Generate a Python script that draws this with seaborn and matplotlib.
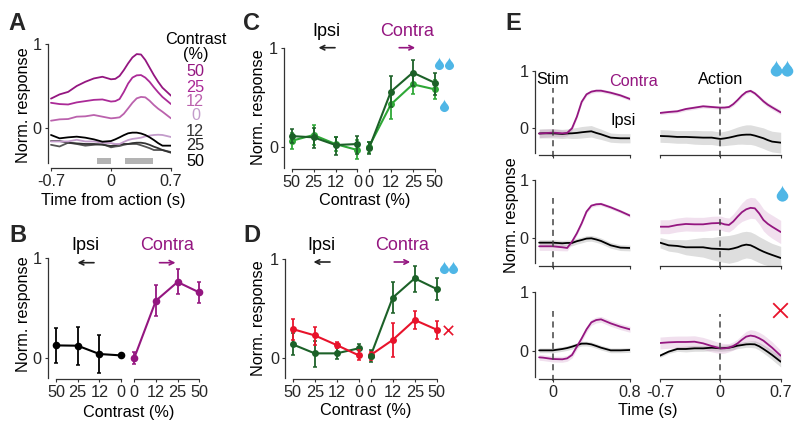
import numpy as np
import pandas as pd
import matplotlib
matplotlib.use('Agg')
import matplotlib.pyplot as plt
from matplotlib.path import Path
import seaborn as sns

# ---- panel A: mean traces per contrast
t_action = [-.7, -.6, -.5, -.4, -.3, -.2, -.1, 0, .05, .1, .15, .2, .25, .3, .35, .4, .45, .5, .55, .6, .7]
a_c50 = [.35, .40, .43, .50, .55, .59, .61, .58, .585, .62, .69, .77, .84, .88, .875, .81, .72, .63, .55, .48, .385]
a_c25 = [.30, .285, .28, .305, .32, .335, .34, .315, .32, .345, .43, .53, .60, .627, .63, .60, .55, .485, .425, .37, .285]
a_c12 = [.087, .103, .107, .135, .139, .155, .135, .115, .12, .127, .17, .234, .30, .353, .37, .365, .325, .274, .23, .194, .115]
a_0 = [-.16, -.16, -.16, -.14, -.16, -.16, -.175, -.18, -.19, -.19, -.165, -.143, -.13, -.123, -.115, -.10, -.09, -.083, -.08, -.083, -.107]
a_i12 = [-.083, -.123, -.111, -.103, -.115, -.135, -.163, -.155, -.135, -.111, -.085, -.063, -.055, -.055, -.065, -.083, -.11, -.143, -.18, -.21, -.21]
a_i25 = [-.155, -.155, -.175, -.183, -.19, -.19, -.20, -.214, -.205, -.195, -.19, -.19, -.18, -.175, -.175, -.183, -.20, -.222, -.24, -.262, -.294]
a_i50 = [-.20, -.22, -.175, -.19, -.21, -.20, -.19, -.23, -.22, -.214, -.20, -.19, -.19, -.19, -.205, -.222, -.24, -.262, -.262, -.262, -.286]
sig_windows = [(-.167, 0), (.163, .494)]

# ---- panels B, C, D: tuning curves (ipsi 50,25,12,0 then contra 0,12,25,50)
ipsi_labels = ['50', '25', '12', '0']
contra_labels = ['0', '12', '25', '50']

b_mean = [.126, .123, .04, .026, 0, .573, .76, .656]
b_low = [-.05, -.066, -.15, .026, -.056, .42, .636, .553]
b_high = [.305, .31, .23, .026, .056, .73, .887, .76]

c_dark = [.108, .095, .017, .027, -.017, .56, .753, .65]
c_dark_low = [.034, -.017, -.085, -.075, -.078, .407, .617, .525]
c_dark_high = [.176, .186, .10, .112, .05, .72, .88, .753]
c_light = [.06, .119, .027, -.034, 0, .43, .634, .583]
c_light_low = [-.024, .017, -.04, -.13, -.068, .28, .536, .485]
c_light_high = [.135, .22, .095, .068, .05, .56, .753, .68]

d_green = [.135, .044, .044, .095, .02, .608, .804, .696]
d_green_low = [.027, -.09, -.014, .027, -.047, .45, .67, .584]
d_green_high = [.247, .169, .11, .135, .078, .77, .93, .804]
d_red = [.29, .226, .128, .024, .027, .18, .382, .284]
d_red_low = [.18, .128, .095, -.024, -.024, .003, .287, .19]
d_red_high = [.39, .314, .155, .078, .06, .348, .473, .375]

# ---- panel E: stim aligned and action aligned traces, three rows
t_stim = [-.14, -.1, 0, .1, .15, .2, .25, .3, .35, .4, .45, .5, .6, .7, .8]

e1_stim_contra = [-.09, -.087, -.075, -.087, -.08, 0, .2, .46, .59, .636, .653, .653, .618, .572, .509]
e1_stim_contra_sem = [.07, .07, .07, .06, .05, .04, .03, .03, .03, .03, .03, .03, .03, .03, .03]
e1_stim_ipsi = [-.09, -.087, -.087, -.098, -.09, -.087, -.08, -.069, -.06, -.052, -.08, -.104, -.162, -.173, -.173]
e1_stim_ipsi_sem = [.08, .08, .08, .08, .08, .09, .095, .1, .1, .1, .095, .09, .08, .08, .08]
e1_act_contra = [.266, .283, .295, .335, .358, .382, .37, .358, .36, .37, .42, .491, .57, .63, .65, .607, .54, .468, .41, .364, .277]
e1_act_contra_sem = [.03, .03, .03, .03, .03, .03, .03, .03, .03, .03, .03, .03, .03, .03, .03, .03, .035, .04, .04, .04, .04]
e1_act_ipsi = [-.133, -.139, -.15, -.15, -.156, -.162, -.162, -.185, -.175, -.162, -.145, -.127, -.115, -.11, -.11, -.127, -.15, -.173, -.205, -.231, -.249]
e1_act_ipsi_sem = [.11, .11, .11, .11, .12, .12, .12, .12, .125, .13, .14, .15, .16, .17, .17, .17, .175, .18, .18, .18, .18]

e2_stim_contra = [-.138, -.138, -.138, -.155, -.167, -.057, .086, .259, .46, .563, .586, .592, .534, .466, .391]
e2_stim_contra_sem = [.07, .07, .07, .06, .05, .04, .035, .03, .03, .03, .03, .03, .03, .03, .03]
e2_stim_ipsi = [-.075, -.075, -.075, -.086, -.08, -.08, -.05, -.029, -.005, 0, -.02, -.046, -.121, -.161, -.167]
e2_stim_ipsi_sem = [.05] * 15
e2_act_contra = [.2, .2, .23, .247, .241, .241, .259, .264, .24, .23, .29, .374, .45, .5, .525, .517, .43, .316, .25, .2, .109]
e2_act_contra_sem = [.12, .12, .12, .12, .12, .12, .12, .12, .12, .12, .13, .14, .16, .18, .18, .18, .185, .19, .195, .2, .2]
e2_act_ipsi = [-.075, -.121, -.132, -.155, -.155, -.155, -.178, -.184, -.187, -.19, -.175, -.155, -.125, -.109, -.12, -.155, -.195, -.23, -.26, -.287, -.339]
e2_act_ipsi_sem = [.09, .1, .11, .13, .15, .17, .19, .22, .23, .24, .24, .24, .235, .23, .23, .23, .225, .22, .21, .2, .2]

e3_stim_contra = [-.107, -.112, -.135, -.14, -.124, -.067, .073, .213, .365, .483, .522, .534, .466, .41, .365]
e3_stim_contra_sem = [.05] * 15
e3_stim_ipsi = [.011, .011, .011, .034, .05, .073, .1, .124, .125, .112, .085, .056, .011, .011, .017]
e3_stim_ipsi_sem = [.04] * 15
e3_act_contra = [.135, .146, .152, .152, .157, .129, .084, .045, .045, .056, .085, .129, .19, .242, .26, .247, .215, .174, .115, .056, -.079]
e3_act_contra_sem = [.1, .1, .1, .1, .1, .1, .1, .09, .08, .07, .07, .07, .08, .09, .1, .1, .1, .1, .1, .1, .09]
e3_act_ipsi = [-.079, -.011, .034, .034, .045, .045, .056, .045, .05, .056, .07, .09, .10, .112, .115, .112, .08, .034, -.015, -.067, -.18]
e3_act_ipsi_sem = [.03, .03, .04, .05, .05, .05, .05, .05, .05, .05, .05, .05, .05, .05, .055, .06, .065, .07, .075, .08, .09]

PURPLE = '#941680'
DARK_GREEN = '#1c6128'
LIGHT_GREEN = '#2ea836'
RED = '#e8132b'
BLUE = '#4fb6e6'
AXC = '#333333'
FS = 11.7

sns.set_style('ticks')
plt.rcParams['font.family'] = ['Liberation Sans', 'DejaVu Sans']

W, H = 800, 429
fig = plt.figure(figsize=(8, 4.29), dpi=100)


def box(left, right, top, bottom):
    return fig.add_axes([left / W, 1 - bottom / H, (right - left) / W, (bottom - top) / H])


def style(ax, ybottom, ylow):
    ax.set_facecolor('none')
    ax.patch.set_visible(False)
    sns.despine(ax=ax)
    ax.set_ylim(ybottom, 1)
    ax.spines['left'].set_bounds(ylow, 1)
    for s in ['left', 'bottom']:
        ax.spines[s].set_color(AXC)
        ax.spines[s].set_linewidth(.9)
    ax.tick_params(length=2, width=.8, color=AXC, labelsize=FS, pad=2.5)
    ax.set_yticks([0, 1])


def tuning_axes(left, first, step, gap, top, zero, bottom, spine_bottom, right):
    ax = box(left, right, top, bottom)
    unit = (zero - top)
    style(ax, -(bottom - zero) / unit, -(spine_bottom - zero) / unit)
    pos = np.array([0, 1, 2, 3, 3 + gap, 4 + gap, 5 + gap, 6 + gap])
    ax.set_xlim((left - first) / step, (right - first) / step)
    ax.set_xticks(pos)
    ax.set_xticklabels(ipsi_labels + contra_labels)
    ax.spines['bottom'].set_bounds(pos[0], pos[3])
    ax.plot(pos[4:], [ax.get_ylim()[0]] * 4, color=AXC, lw=.9, clip_on=False)
    return ax, pos


def tuning(ax, pos, mean, low, high, colors, ms=5):
    mean, low, high = np.array(mean), np.array(low), np.array(high)
    for part, col in zip([slice(0, 4), slice(4, 8)], colors):
        sns.lineplot(x=pos[part], y=mean[part], color=col, lw=1.5, marker='o', markersize=ms,
                     markeredgewidth=0, ax=ax, errorbar=None)
        ax.errorbar(pos[part], mean[part], yerr=[mean[part] - low[part], high[part] - mean[part]],
                    fmt='none', ecolor=col, elinewidth=1.3, capsize=1.5, capthick=1.1)


def trace(ax, t, y, sem, col):
    t, y, sem = np.array(t), np.array(y), np.array(sem)
    ax.fill_between(t, y - sem, y + sem, color=col, alpha=.13, lw=0)
    sns.lineplot(x=t, y=y, color=col, lw=1.3, ax=ax, errorbar=None)


# panel A
ax = box(48, 171, 44, 168)
style(ax, -.476, -.42)
ax.set_xlim(-.735, .7)
ax.set_xticks([-.7, 0, .7])
ax.set_xticklabels(['-0.7', '0', '0.7'])
ax.spines['bottom'].set_bounds(-.7, .7)
for y, col in [(a_i50, '#555555'), (a_i25, '#333333'), (a_0, '#c39ccb'), (a_i12, '#000000'),
               (a_c12, '#bb62ad'), (a_c25, '#ab2a97'), (a_c50, PURPLE)]:
    sns.lineplot(x=t_action, y=y, color=col, lw=1.3, ax=ax, errorbar=None)
for a, b in sig_windows:
    ax.fill_between([a, b], -.43, -.36, color='#b3b3b3', lw=0)

# panel B
ax, pos = tuning_axes(48, 56, 21.67, .61, 258, 358, 379, 378, 210)
tuning(ax, pos, b_mean, b_low, b_high, ['black', PURPLE], ms=5.5)

# panel C
ax, pos = tuning_axes(284.3, 291.7, 21.9, .53, 48.3, 146.7, 169, 168, 445)
tuning(ax, pos, c_light, c_light_low, c_light_high, [LIGHT_GREEN, LIGHT_GREEN])
tuning(ax, pos, c_dark, c_dark_low, c_dark_high, [DARK_GREEN, DARK_GREEN])

# panel D
ax, pos = tuning_axes(285.3, 292.7, 22, .545, 259, 357.7, 379, 378.3, 445)
tuning(ax, pos, d_green, d_green_low, d_green_high, [DARK_GREEN, DARK_GREEN])
tuning(ax, pos, d_red, d_red_low, d_red_high, [RED, RED])
sns.lineplot(x=pos[4:5], y=d_green[4:5], color=DARK_GREEN, marker='o', markersize=5,
             markeredgewidth=0, ax=ax, errorbar=None)

# panel E
rows = [
    (70.7, 128.3, 155, 152.7, e1_stim_contra, e1_stim_contra_sem, e1_stim_ipsi, e1_stim_ipsi_sem,
     e1_act_contra, e1_act_contra_sem, e1_act_ipsi, e1_act_ipsi_sem, .70, .70),
    (180.3, 238.3, 266, 263.3, e2_stim_contra, e2_stim_contra_sem, e2_stim_ipsi, e2_stim_ipsi_sem,
     e2_act_contra, e2_act_contra_sem, e2_act_ipsi, e2_act_ipsi_sem, .695, .695),
    (291.7, 351, 379, 377.3, e3_stim_contra, e3_stim_contra_sem, e3_stim_ipsi, e3_stim_ipsi_sem,
     e3_act_contra, e3_act_contra_sem, e3_act_ipsi, e3_act_ipsi_sem, .675, .62),
]
for i, r in enumerate(rows):
    top, zero, bottom, sp = r[:4]
    unit = zero - top
    ymin = -(bottom - zero) / unit
    ax1 = box(535, 630, top, bottom)
    style(ax1, ymin, -(sp - zero) / unit)
    ax1.set_xlim(-.183, .8)
    ax1.spines['bottom'].set_bounds(-.138, .8)
    trace(ax1, t_stim, r[6], r[7], 'black')
    trace(ax1, t_stim, r[4], r[5], PURPLE)
    ax1.vlines(0, ymin - .03, r[12], color='#444444', lw=1.1, linestyles=(0, (4, 3)), clip_on=False)
    ax2 = box(660, 780.7, top, bottom)
    style(ax2, ymin, 0)
    ax2.spines['left'].set_visible(False)
    ax2.set_yticks([])
    ax2.set_xlim(-.7, .7)
    trace(ax2, t_action, r[10], r[11], 'black')
    trace(ax2, t_action, r[8], r[9], PURPLE)
    ax2.vlines(0, ymin - .03, r[13], color='#444444', lw=1.1, linestyles=(0, (4, 3)), clip_on=False)
    ax1.set_xticks([0, .8])
    ax2.set_xticks([-.7, 0, .7])
    if i == 2:
        ax1.set_xticklabels(['0', '0.8'])
        ax2.set_xticklabels(['-0.7', '0', '0.7'])
    else:
        ax1.set_xticklabels([])
        ax2.set_xticklabels([])

# annotations in pixel coordinates
ov = fig.add_axes([0, 0, 1, 1], zorder=10)
ov.set_xlim(0, W)
ov.set_ylim(H, 0)
ov.axis('off')


def label(x, y, s, color='black', rot=0, fs=FS):
    ov.text(x, y, s, color=color, rotation=rot, fontsize=fs, ha='center', va='center')


for x, y, s in [(8, 30, 'A'), (9, 242, 'B'), (243, 30, 'C'), (243, 242, 'D'), (505, 30, 'E')]:
    ov.text(x, y, s, fontsize=17, fontweight='bold', ha='left', va='baseline')

for x, y in [(24, 105.5), (24, 314), (259, 107), (259, 318), (511.7, 215)]:
    label(x, y, 'Norm. response', rot=90)
label(113, 200, 'Time from action (s)')
label(129, 412, 'Contrast (%)')
label(365, 201, 'Contrast (%)')
label(366, 411, 'Contrast (%)')
label(647.7, 410.7, 'Time (s)')

label(196, 39, 'Contrast')
label(196, 54, '(%)')
legend_y = [72, 87, 102, 116, 131, 146, 161]
legend_s = ['50', '25', '12', '0', '12', '25', '50']
legend_c = [PURPLE, '#ab2a97', '#bb62ad', '#c39ccb', '#333333', '#222222', 'black']
for y, s, c in zip(legend_y, legend_s, legend_c):
    ov.text(204 if s != '0' else 200, y, s, color=c, fontsize=FS, ha='right', va='center')

for xi, xc, ya, yt in [(85, 167, 262.7, 246), (326, 406.7, 47.7, 31), (321, 401.7, 262, 246)]:
    label(xi, yt, 'Ipsi', fs=13)
    label(xc, yt, 'Contra', color=PURPLE, fs=13)
    ov.annotate('', xy=(xi - 7.5, ya), xytext=(xi + 9, ya),
                arrowprops=dict(arrowstyle='->', lw=1.2, color='#222222', shrinkA=0, shrinkB=0, mutation_scale=8))
    ov.annotate('', xy=(xc + 8.5, ya), xytext=(xc - 7.5, ya),
                arrowprops=dict(arrowstyle='->', lw=1.2, color=PURPLE, shrinkA=0, shrinkB=0, mutation_scale=8))

label(553, 79, 'Stim')
label(634, 82, 'Contra', color=PURPLE)
label(622.7, 120, 'Ipsi')
label(720.7, 79, 'Action')

drop = Path([(0, 1), (.1, .5), (.65, .25), (.65, -.2), (.65, -.55), (.3, -.8), (0, -.8),
             (-.3, -.8), (-.65, -.55), (-.65, -.2), (-.65, .25), (-.1, .5), (0, 1), (0, 1)],
            [Path.MOVETO] + [Path.CURVE4] * 12 + [Path.CLOSEPOLY])
ov.scatter([439.3, 448.7, 443.7, 444, 453], [64, 64, 106, 268, 268], marker=drop, s=100, color=BLUE, linewidths=0)
ov.scatter([775.7, 787.3, 782.3], [69, 69, 194], marker=drop, s=165, color=BLUE, linewidths=0)
ov.scatter([448.3], [330], marker='x', s=45, color=RED, linewidths=1.2)
ov.scatter([780], [310], marker='x', s=110, color=RED, linewidths=1.3)

fig.savefig('out.png', dpi=100)
